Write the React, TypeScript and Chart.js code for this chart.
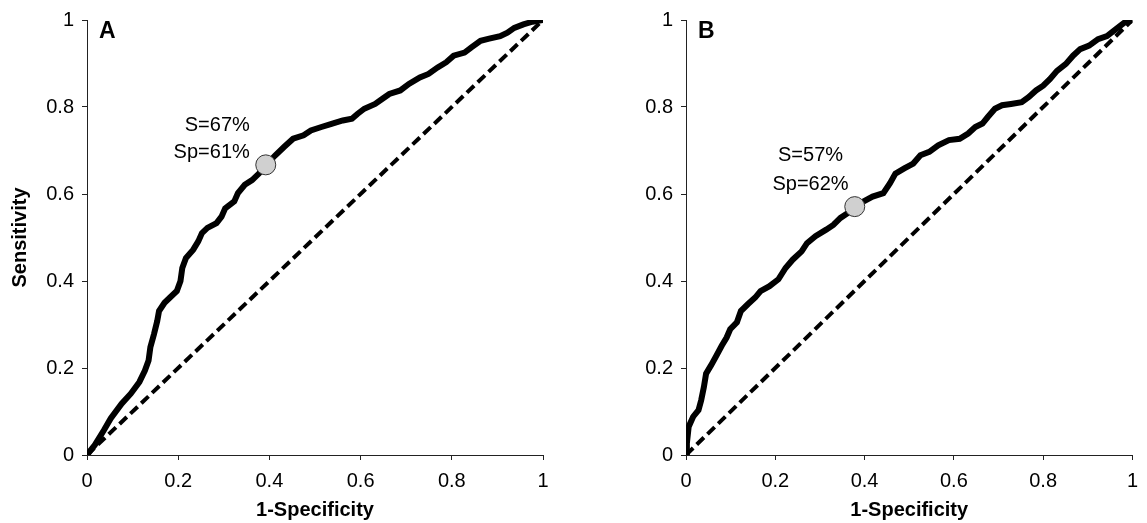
import React, { useEffect, useRef } from "react";
import { Chart, registerables } from "chart.js";

Chart.register(...registerables);

const FONT = '"Liberation Sans", Arial, Helvetica, sans-serif';

// Tick values / labels shared by both panels
const tickValues = [0, 0.2, 0.4, 0.6, 0.8, 1];
const tickLabels = ["0", "0.2", "0.4", "0.6", "0.8", "1"];

// Panel A ROC curve (1-Specificity, Sensitivity)
const rocAx = [0, 0.017, 0.037, 0.052, 0.076, 0.096, 0.115, 0.127, 0.135, 0.139, 0.147, 0.154, 0.158, 0.17, 0.182, 0.197, 0.205, 0.209, 0.217, 0.233, 0.244, 0.252, 0.264, 0.284, 0.295, 0.303, 0.323, 0.331, 0.346, 0.362, 0.377, 0.392, 0.413, 0.432, 0.452, 0.475, 0.491, 0.514, 0.538, 0.561, 0.581, 0.593, 0.608, 0.632, 0.648, 0.663, 0.687, 0.706, 0.73, 0.749, 0.769, 0.788, 0.804, 0.828, 0.843, 0.863, 0.882, 0.906, 0.922, 0.937, 0.957, 0.977, 1];
const rocAy = [0, 0.023, 0.057, 0.084, 0.118, 0.141, 0.168, 0.194, 0.217, 0.248, 0.278, 0.308, 0.331, 0.35, 0.362, 0.377, 0.4, 0.43, 0.453, 0.472, 0.491, 0.51, 0.522, 0.533, 0.548, 0.567, 0.583, 0.602, 0.621, 0.632, 0.647, 0.666, 0.689, 0.708, 0.727, 0.735, 0.746, 0.754, 0.762, 0.769, 0.773, 0.784, 0.796, 0.807, 0.819, 0.83, 0.838, 0.853, 0.868, 0.876, 0.891, 0.903, 0.918, 0.925, 0.937, 0.952, 0.957, 0.963, 0.971, 0.982, 0.99, 0.996, 1];

// Panel B ROC curve
const rocBx = [0, 0.002, 0.006, 0.016, 0.028, 0.034, 0.04, 0.045, 0.056, 0.068, 0.08, 0.091, 0.099, 0.114, 0.123, 0.139, 0.155, 0.167, 0.187, 0.207, 0.223, 0.239, 0.259, 0.271, 0.29, 0.314, 0.33, 0.346, 0.362, 0.378, 0.398, 0.418, 0.442, 0.457, 0.469, 0.489, 0.509, 0.525, 0.545, 0.565, 0.589, 0.613, 0.632, 0.648, 0.664, 0.676, 0.692, 0.708, 0.728, 0.752, 0.768, 0.784, 0.8, 0.815, 0.831, 0.851, 0.867, 0.883, 0.903, 0.923, 0.943, 0.963, 0.982, 1];
const rocBy = [0, 0.027, 0.065, 0.088, 0.103, 0.126, 0.156, 0.187, 0.206, 0.228, 0.251, 0.27, 0.289, 0.305, 0.331, 0.347, 0.362, 0.377, 0.388, 0.404, 0.43, 0.449, 0.468, 0.487, 0.503, 0.518, 0.529, 0.545, 0.556, 0.571, 0.583, 0.594, 0.602, 0.625, 0.647, 0.659, 0.67, 0.689, 0.697, 0.712, 0.724, 0.727, 0.739, 0.754, 0.762, 0.777, 0.796, 0.804, 0.807, 0.811, 0.823, 0.838, 0.849, 0.864, 0.883, 0.899, 0.918, 0.933, 0.941, 0.956, 0.963, 0.979, 0.994, 1];

// Chance line
const chanceX = [0, 1];
const chanceY = [0, 1];

// Optimal cut-off points
const cutAx = [0.392];
const cutAy = [0.667];
const cutBx = [0.378];
const cutBy = [0.571];

// Annotations
const annA = ["S=67%", "Sp=61%"];
const annAx = [0.357, 0.357];
const annAy = [0.744, 0.682];
const annB = ["S=57%", "Sp=62%"];
const annBx = [0.279, 0.279];
const annBy = [0.677, 0.609];

const toPts = (xs: number[], ys: number[]) => xs.map((x, i) => ({ x, y: ys[i] }));

type PanelProps = {
  letter: string;
  curveX: number[];
  curveY: number[];
  cutX: number[];
  cutY: number[];
  ann: string[];
  annX: number[];
  annY: number[];
  annAlign: CanvasTextAlign;
  yTitle: string;
  yWidth: number;
  width: number;
  padRight: number;
  left: number;
};

function Panel(p: PanelProps) {
  const ref = useRef<HTMLCanvasElement>(null);
  useEffect(() => {
    if (!ref.current) return;
    const textPlugin = {
      id: "panelText" + p.letter,
      afterDatasetsDraw(chart: any) {
        const { ctx, chartArea, scales } = chart;
        ctx.save();
        ctx.fillStyle = "#000";
        ctx.font = `bold 23px ${FONT}`;
        ctx.textAlign = "left";
        ctx.textBaseline = "alphabetic";
        ctx.fillText(p.letter, chartArea.left + 12, chartArea.top + 18);
        ctx.font = `20px ${FONT}`;
        ctx.textAlign = p.annAlign;
        p.ann.forEach((t, i) => {
          ctx.fillText(t, scales.x.getPixelForValue(p.annX[i]), scales.y.getPixelForValue(p.annY[i]));
        });
        ctx.restore();
      },
    };
    const axisCommon = {
      type: "linear" as const,
      min: 0,
      max: 1,
      grid: {
        display: true,
        drawOnChartArea: false,
        drawTicks: true,
        tickLength: 5,
        color: "#222",
        lineWidth: 1,
      },
      border: { display: true, color: "#222", width: 1 },
    };
    const chart = new Chart(ref.current, {
      type: "scatter",
      data: {
        datasets: [
          {
            data: toPts(p.cutX, p.cutY),
            pointRadius: 10,
            pointBackgroundColor: "#d0d0d0",
            pointBorderColor: "#333",
            pointBorderWidth: 1,
            showLine: false,
          },
          {
            data: toPts(p.curveX, p.curveY),
            showLine: true,
            borderColor: "#000",
            borderWidth: 6,
            pointRadius: 0,
            tension: 0,
            borderJoinStyle: "miter",
            borderCapStyle: "butt",
          },
          {
            data: toPts(chanceX, chanceY),
            showLine: true,
            borderColor: "#000",
            borderWidth: 4,
            borderDash: [10, 5],
            pointRadius: 0,
          },
        ] as any,
      },
      options: {
        animation: false,
        responsive: false,
        maintainAspectRatio: false,
        layout: { padding: { left: 0, top: 18, right: p.padRight, bottom: 0 } },
        plugins: { legend: { display: false }, tooltip: { enabled: false } },
        scales: {
          x: {
            ...axisCommon,
            afterBuildTicks: (s: any) => {
              s.ticks = tickValues.map((v) => ({ value: v }));
            },
            afterFit: (s: any) => {
              s.height = 68;
            },
            ticks: {
              color: "#000",
              font: { size: 20, family: FONT },
              padding: 9,
              maxRotation: 0,
              callback: (v: any) => tickLabels[tickValues.indexOf(Number(v))] ?? String(v),
            },
            title: {
              display: true,
              text: "1-Specificity",
              color: "#000",
              font: { size: 20, weight: "bold", family: FONT },
              padding: { top: 0, bottom: 1 },
            },
          },
          y: {
            ...axisCommon,
            afterBuildTicks: (s: any) => {
              s.ticks = tickValues.map((v) => ({ value: v }));
            },
            afterFit: (s: any) => {
              s.width = p.yWidth;
            },
            ticks: {
              color: "#000",
              font: { size: 20, family: FONT },
              padding: 8,
              callback: (v: any) => tickLabels[tickValues.indexOf(Number(v))] ?? String(v),
            },
            title: {
              display: p.yTitle !== "",
              text: p.yTitle,
              color: "#000",
              font: { size: 20, weight: "bold", family: FONT },
              padding: { top: 8, bottom: 0 },
            },
          },
        },
      } as any,
      plugins: [textPlugin],
    });
    return () => chart.destroy();
  }, []);
  return (
    <canvas
      ref={ref}
      width={p.width}
      height={523}
      style={{ position: "absolute", left: p.left, top: 0, width: p.width, height: 523 }}
    />
  );
}

export default function App() {
  return (
    <div style={{ position: "absolute", left: 0, top: 0, width: 1147, height: 523, background: "#fff", overflow: "hidden" }}>
      <Panel
        letter="A"
        curveX={rocAx}
        curveY={rocAy}
        cutX={cutAx}
        cutY={cutAy}
        ann={annA}
        annX={annAx}
        annY={annAy}
        annAlign="right"
        yTitle="Sensitivity"
        yWidth={87}
        width={570}
        padRight={27}
        left={0}
      />
      <Panel
        letter="B"
        curveX={rocBx}
        curveY={rocBy}
        cutX={cutBx}
        cutY={cutBy}
        ann={annB}
        annX={annBx}
        annY={annBy}
        annAlign="center"
        yTitle=""
        yWidth={106}
        width={567}
        padRight={6}
        left={580}
      />
    </div>
  );
}
